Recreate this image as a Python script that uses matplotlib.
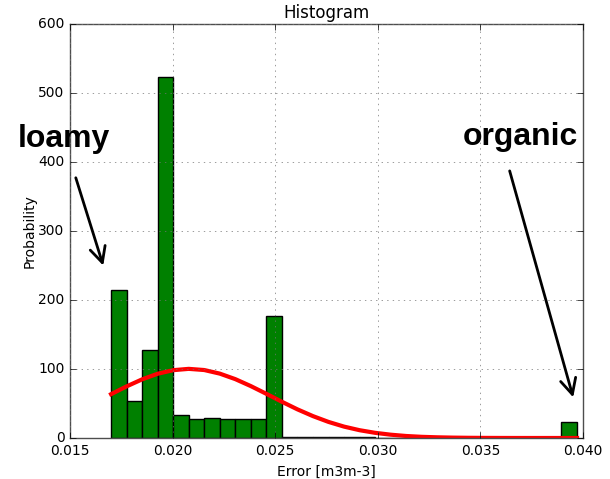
import numpy as np
import matplotlib
matplotlib.use('Agg')
import matplotlib.pyplot as plt

plt.style.use('classic')

# histogram (normed), 30 bins
bin_start = 0.0170
bin_width = 0.000757
heights = [214, 54, 128, 523, 34, 28, 29, 27, 27, 27,
           177, 1.5, 1.5, 1.5, 1.5, 1.5, 1.5, 0, 0, 0,
           0, 0, 0, 0, 0, 0, 0, 0, 0, 23]

# red curve values at the bin edges
curve = [63.5, 74.8, 85.0, 93.1, 98.3, 100.2, 98.5, 93.3, 85.3, 75.2,
         64.0, 52.5, 41.5, 31.7, 23.3, 16.5, 11.3, 7.5, 4.8, 2.9,
         1.7, 1.0, 0.55, 0.29, 0.15, 0.07, 0.03, 0.01, 0.01, 0.0, 0.0]

edges = bin_start + bin_width * np.arange(len(heights) + 1)

fig = plt.figure(figsize=(6.1, 4.79), dpi=100)
ax = fig.add_axes([0.1148, 0.0856, 0.8409, 0.8643])

ax.bar(edges[:-1], heights, width=bin_width, align='edge',
       facecolor='green', edgecolor='black', linewidth=1)
ax.plot(edges, curve, 'r-', linewidth=3)

ax.set_xlim(0.015, 0.040)
ax.set_ylim(0, 600)
ax.set_xticks([0.015, 0.020, 0.025, 0.030, 0.035, 0.040])
ax.set_xticklabels(['0.015', '0.020', '0.025', '0.030', '0.035', '0.040'])
ax.grid(True, color='0.45')
for s in ax.spines.values():
    s.set_edgecolor('0.3')
ax.tick_params(labelsize=10)
ax.set_title('Histogram', fontsize=12, pad=4)
ax.set_xlabel('Error [m3m-3]', fontsize=10)
ax.set_ylabel('Probability', fontsize=10, labelpad=1)

font = dict(family=['Liberation Sans', 'DejaVu Sans'], fontsize=23, fontweight='bold')
ax.annotate('', xy=(0.01666, 246), xytext=(0.01524, 381),
            arrowprops=dict(arrowstyle='->', lw=2, mutation_scale=28),
            annotation_clip=False)
ax.annotate('', xy=(0.03956, 55), xytext=(0.03639, 391),
            arrowprops=dict(arrowstyle='->', lw=2, mutation_scale=28),
            annotation_clip=False)
ax.text(0.01247, 422, 'loamy', ha='left', va='baseline', clip_on=False, **font)
ax.text(0.03415, 425, 'organic', ha='left', va='baseline', clip_on=False, **font)

fig.savefig('out.png', dpi=100)
